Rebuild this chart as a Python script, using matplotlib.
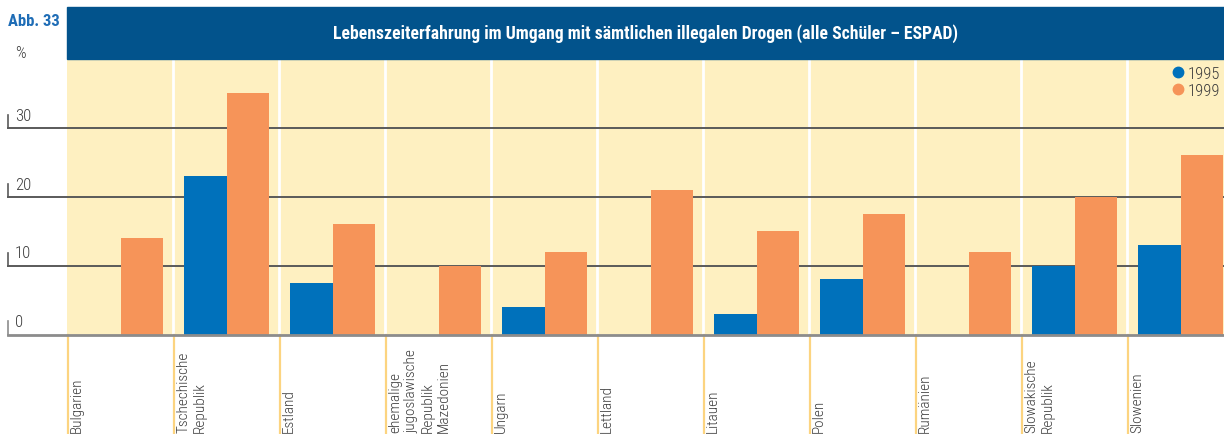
import matplotlib
matplotlib.use("Agg")
import numpy as np
import matplotlib.pyplot as plt
from matplotlib.lines import Line2D
from matplotlib.patches import Rectangle
from matplotlib.transforms import blended_transform_factory

# Data
countries = [
    "Bulgarien",
    "Tschechische\nRepublik",
    "Estland",
    "ehemalige\njugoslawische\nRepublik\nMazedonien",
    "Ungarn",
    "Lettland",
    "Litauen",
    "Polen",
    "Rumänien",
    "Slowakische\nRepublik",
    "Slowenien",
]
val_1995 = [np.nan, 23, 7.5, np.nan, 4, np.nan, 3, 8, np.nan, 10, 13]
val_1999 = [14, 35, 16, 10, 12, 21, 15, 17.5, 12, 20, 26]
yticks = [0, 10, 20, 30]

title = "Lebenszeiterfahrung im Umgang mit sämtlichen illegalen Drogen (alle Schüler – ESPAD)"

# Colours
C_HEADER = "#02538C"
C_1995 = "#0071BB"
C_1999 = "#F69459"
C_BG = "#FEF0C1"
C_ABB = "#1F6DB6"
C_TEXT = "#3C3C3C"
C_SEP = "#FCD480"
C_GRID = "#5A5A5A"
C_ZERO = "#8C8C8C"

plt.rcParams["font.family"] = ["Roboto Condensed", "IBM Plex Sans Condensed",
                               "Liberation Sans Narrow", "DejaVu Sans"]

W, H = 1224, 435
fig = plt.figure(figsize=(W / 100, H / 100), dpi=100)

# Axes: x 67..1224 px, y 60..335.5 px
ax = fig.add_axes([67 / W, (H - 335.5) / H, (W - 67) / W, (335.5 - 60) / H])
ax.set_facecolor(C_BG)
for s in ax.spines.values():
    s.set_visible(False)
ax.set_xticks([])
ax.set_yticks([])

x = np.arange(len(countries))
width = 0.40
ax.bar(x - 0.195, val_1995, width=width, color=C_1995, zorder=3)
ax.bar(x + 0.205, val_1999, width=width, color=C_1999, zorder=3)

ax.set_xlim(-0.5, -0.5 + (W - 67) / 106)
ax.set_ylim(0, 40)

# white separators inside the plot
for k in range(1, len(countries)):
    ax.axvline(k - 0.5, color="white", lw=2, zorder=1)

# light orange separators below the plot
for k in range(len(countries)):
    ax.plot([k - 0.5 + 0.005, k - 0.5 + 0.005], [0, -16], color=C_SEP,
            lw=1.6, clip_on=False, zorder=1)

# gridlines running into the left margin, with small tick marks and labels
tr = blended_transform_factory(fig.transFigure, ax.transData)
x0 = 8 / W
for v in yticks:
    col = C_ZERO if v == 0 else C_GRID
    lw = 2 if v == 0 else 1.4
    ax.plot([x0, 1], [v, v], color=col, lw=lw, transform=tr,
            clip_on=False, zorder=2 if v else 4)
    ax.plot([x0, x0], [v, v + 1.9], color=col, lw=1.2, transform=tr,
            clip_on=False)
    ax.text(15 / W, v + 0.75, str(v), transform=tr, ha="left", va="bottom",
            fontsize=12, color=C_TEXT, fontweight="light")

# category labels, rotated, starting at the bottom edge
trl = blended_transform_factory(ax.transData, fig.transFigure)
for i, name in enumerate(countries):
    ax.text(i - 0.5 + 0.03, 1.5 / H, name, transform=trl, rotation=90,
            ha="left", va="bottom", multialignment="left",
            fontsize=11, color=C_TEXT, linespacing=1.2, fontweight="light")

# header band and title
fig.patches.append(Rectangle((67 / W, (H - 60) / H), (W - 67) / W, 52 / H,
                             transform=fig.transFigure, color=C_HEADER,
                             zorder=0))
fig.text((67 + W) / 2 / W, (H - 34) / H, title, ha="center", va="center",
         color="white", fontsize=12.7, fontweight="bold")

fig.text(8 / W, (H - 22) / H, "Abb. 33", ha="left", va="center",
         color=C_ABB, fontsize=12, fontweight="bold")
fig.text(15 / W, (H - 53) / H, "%", ha="left", va="center",
         color=C_TEXT, fontsize=12, fontweight="light")

# legend
handles = [
    Line2D([], [], marker="o", ls="", color=C_1995, markersize=7.5),
    Line2D([], [], marker="o", ls="", color=C_1999, markersize=7.5),
]
fig.legend(handles, ["1995", "1999"], loc="upper right",
           bbox_to_anchor=(1220 / W, (H - 67) / H), frameon=False,
           handlelength=0.6, handletextpad=0.3, labelspacing=0.1,
           borderpad=0, borderaxespad=0, fontsize=12, labelcolor=C_TEXT,
           prop={"weight": "light", "size": 12})

fig.savefig("out.png", dpi=100)
